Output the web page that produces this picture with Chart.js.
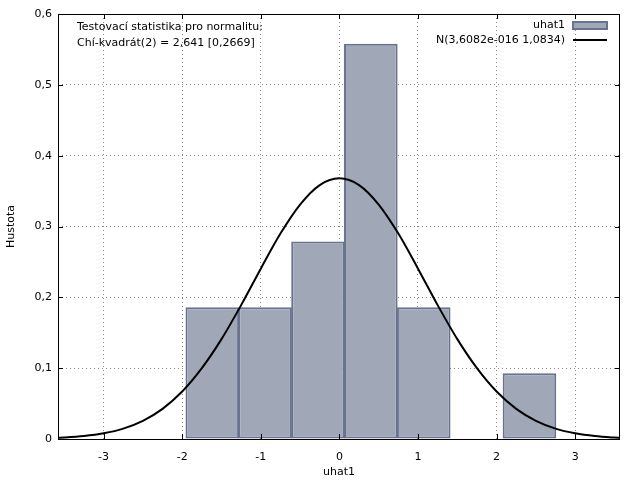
<!DOCTYPE html>
<html>
<head>
<meta charset="utf-8">
<script src="https://cdn.jsdelivr.net/npm/chart.js@4/dist/chart.umd.min.js"></script>
<style>
  body { margin: 0; background: #fff; }
</style>
</head>
<body>
<canvas id="histChart" width="640" height="480"></canvas>
<script>
// histogram bins (centres) and densities
const binCenters = [-1.617, -0.945, -0.272, 0.400, 1.073, 1.745, 2.418];
const binDensity = [0.186, 0.186, 0.279, 0.558, 0.186, null, 0.093];

// fitted normal density
const curveX = [-3.58, -3.5, -3.25, -3, -2.75, -2.5, -2.25, -2, -1.75, -1.5, -1.25, -1, -0.75, -0.5, -0.25, 0,
                0.25, 0.5, 0.75, 1, 1.25, 1.5, 1.75, 2, 2.25, 2.5, 2.75, 3, 3.25, 3.5, 3.57];
const curveY = [0.0016, 0.002, 0.0041, 0.008, 0.0147, 0.0257, 0.0426, 0.067, 0.100, 0.141, 0.189, 0.2405, 0.290, 0.331, 0.3585, 0.368,
                0.3585, 0.331, 0.290, 0.2405, 0.189, 0.141, 0.100, 0.067, 0.0426, 0.0257, 0.0147, 0.008, 0.0041, 0.002, 0.0016];

const seriesNames = ['uhat1', 'N(3,6082e-016 1,0834)'];
const noteLines = ['Testovací statistika pro normalitu:', 'Chí-kvadrát(2) = 2,641 [0,2669]'];

const FAMILY = '"DejaVu Sans", Verdana, sans-serif';
const FONT = '11px ' + FAMILY;
const barFill = '#a0a7b6';
const barEdge = '#68738f';

const comma = v => String(Math.round(v * 10) / 10).replace('.', ',');

const framePlugin = {
    id: 'frame',
    afterDraw(chart) {
        const { ctx, chartArea: a, scales } = chart;
        ctx.save();
        ctx.strokeStyle = '#000';
        ctx.lineWidth = 1;
        ctx.strokeRect(a.left + 0.5, a.top + 0.5, a.right - a.left - 1, a.bottom - a.top);
        // inward ticks on all four sides
        ctx.beginPath();
        scales.x.ticks.forEach(t => {
            const px = Math.round(scales.x.getPixelForValue(t.value)) + 0.5;
            ctx.moveTo(px, a.bottom); ctx.lineTo(px, a.bottom - 5);
            ctx.moveTo(px, a.top); ctx.lineTo(px, a.top + 5);
        });
        scales.y.ticks.forEach(t => {
            const py = Math.round(scales.y.getPixelForValue(t.value)) + 0.5;
            ctx.moveTo(a.left, py); ctx.lineTo(a.left + 5, py);
            ctx.moveTo(a.right, py); ctx.lineTo(a.right - 5, py);
        });
        ctx.stroke();

        ctx.fillStyle = '#000';
        ctx.font = FONT;
        ctx.textBaseline = 'middle';
        ctx.textAlign = 'left';
        ctx.fillText(noteLines[0], 77, 27);
        ctx.fillText(noteLines[1], 77, 43);

        ctx.textAlign = 'right';
        ctx.fillText(seriesNames[0], 565, 25);
        ctx.fillText(seriesNames[1], 565, 40);
        ctx.fillStyle = barFill;
        ctx.strokeStyle = barEdge;
        ctx.lineWidth = 2;
        ctx.fillRect(573, 22, 34, 7);
        ctx.strokeRect(573, 22, 34, 7);
        ctx.strokeStyle = '#000';
        ctx.beginPath();
        ctx.moveTo(573, 40); ctx.lineTo(607, 40);
        ctx.stroke();
        ctx.restore();
    }
};

new Chart(document.getElementById('histChart'), {
    data: {
        datasets: [{
            type: 'line',
            label: seriesNames[1],
            data: curveX.map((x, i) => ({ x, y: curveY[i] })),
            borderColor: '#000',
            borderWidth: 2,
            pointRadius: 0,
            cubicInterpolationMode: 'monotone',
            fill: false,
        }, {
            type: 'bar',
            label: seriesNames[0],
            data: binCenters.map((x, i) => ({ x, y: binDensity[i] })),
            backgroundColor: barFill,
            borderColor: barEdge,
            borderWidth: 2,
            borderSkipped: false,
            barPercentage: 1.015,
            categoryPercentage: 1,
        }],
    },
    options: {
        responsive: false,
        animation: false,
        layout: { padding: { top: 14, right: 20, left: 0, bottom: 0 } },
        plugins: { legend: { display: false }, tooltip: { enabled: false } },
        scales: {
            x: {
                type: 'linear',
                offset: false,
                min: -3.58,
                max: 3.57,
                afterFit: s => { s.height = 41; },
                grid: { color: '#888', drawTicks: false, offset: false },
                border: { display: false, dash: [1, 3] },
                ticks: {
                    stepSize: 1,
                    includeBounds: false,
                    padding: 12,
                    color: '#000',
                    font: { family: FAMILY, size: 11 },
                    callback: v => String(v),
                },
                title: {
                    display: true,
                    text: 'uhat1',
                    color: '#000',
                    font: { family: FAMILY, size: 11 },
                    padding: { top: 0, bottom: 1 },
                },
            },
            y: {
                min: 0,
                max: 0.6,
                afterFit: s => { s.width = 58; },
                grid: { color: '#888', drawTicks: false },
                border: { display: false, dash: [1, 3] },
                ticks: {
                    stepSize: 0.1,
                    padding: 6,
                    color: '#000',
                    font: { family: FAMILY, size: 11 },
                    callback: v => comma(v),
                },
                title: {
                    display: true,
                    text: 'Hustota',
                    color: '#000',
                    font: { family: FAMILY, size: 11 },
                    padding: { top: 5, bottom: 0 },
                },
            },
        },
    },
    plugins: [framePlugin],
});
</script>
</body>
</html>
